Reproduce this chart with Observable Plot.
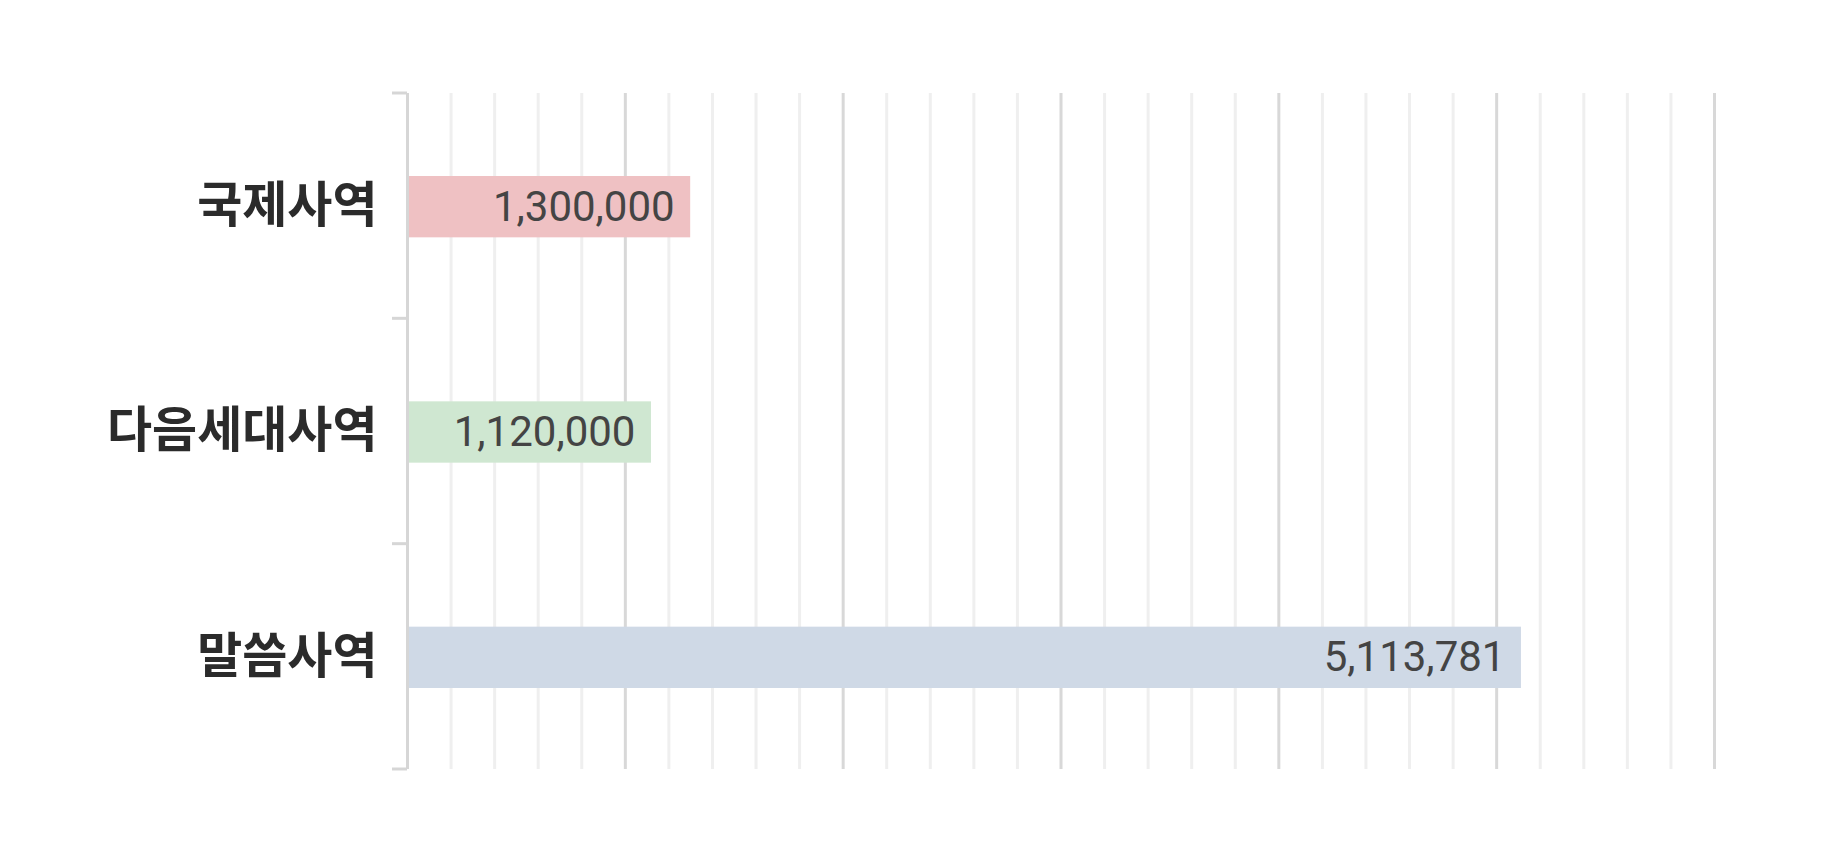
<!DOCTYPE html>
<html>
<head>
<meta charset="utf-8">
<script src="https://cdn.jsdelivr.net/npm/d3@7"></script>
<script src="https://cdn.jsdelivr.net/npm/@observablehq/plot@0.6"></script>
<style>
  html, body { margin: 0; padding: 0; background: #fff; }
  #chart { width: 1825px; height: 865px; }
</style>
</head>
<body>
<div id="chart"></div>
<script>
// ---- data ----
const categories = ["국제사역", "다음세대사역", "말씀사역"];
const values = [1300000, 1120000, 5113781];
const valueLabels = ["1,300,000", "1,120,000", "5,113,781"];
const barColors = ["#efc1c3", "#cfe7d1", "#cfd9e6"];
const xDomain = [0, 6000000];
const minorStep = 200000;
const majorStep = 1000000;

const data = categories.map((c, i) => ({category: c, value: values[i], label: valueLabels[i]}));
const gridTicks = d3.range(xDomain[0] + minorStep, xDomain[1] + 1, minorStep);
const majorTicks = gridTicks.filter(t => t % majorStep === 0);
const minorTicks = gridTicks.filter(t => t % majorStep !== 0);

const boundaryTicks = (index, scales, values, dimensions) => {
  const {marginTop, marginBottom, marginLeft, height} = dimensions;
  const n = categories.length;
  const step = (height - marginTop - marginBottom) / n;
  const g = d3.create("svg:g");
  for (let i = 0; i <= n; i++) {
    const y = marginTop + i * step;
    g.append("line")
      .attr("x1", marginLeft - 15).attr("x2", marginLeft)
      .attr("y1", y).attr("y2", y)
      .attr("stroke", "#d6d6d6").attr("stroke-width", 3);
  }
  return g.node();
};

const chart = Plot.plot({
  width: 1825,
  height: 865,
  marginLeft: 407,
  marginTop: 93,
  marginBottom: 96,
  marginRight: 111,
  style: {background: "#fff"},
  x: {domain: xDomain, axis: null},
  y: {domain: categories, padding: 0, round: false, axis: null},
  color: {domain: categories, range: barColors},
  marks: [
    Plot.ruleX(minorTicks, {stroke: "#efefef", strokeWidth: 3}),
    Plot.ruleX(majorTicks, {stroke: "#d8d8d8", strokeWidth: 3}),
    Plot.barX(data, {x: "value", y: "category", fill: "category", insetTop: 83, insetBottom: 81}),
    Plot.text(data, {
      x: "value", y: "category", text: "label",
      textAnchor: "end", dx: -16, dy: 1,
      fill: "#444", fontSize: 42, fontFamily: "Roboto, 'Noto Sans', sans-serif"
    }),
    Plot.axisY({
      label: null,
      tickSize: 0, tickPadding: 30,
      fontSize: 49, fontWeight: "bold", fill: "#2b2b2b",
      fontFamily: "'Noto Sans CJK KR', sans-serif"
    }),
    Plot.ruleX([0], {stroke: "#d6d6d6", strokeWidth: 3}),
    boundaryTicks
  ]
});

document.getElementById("chart").appendChild(chart);
</script>
</body>
</html>
